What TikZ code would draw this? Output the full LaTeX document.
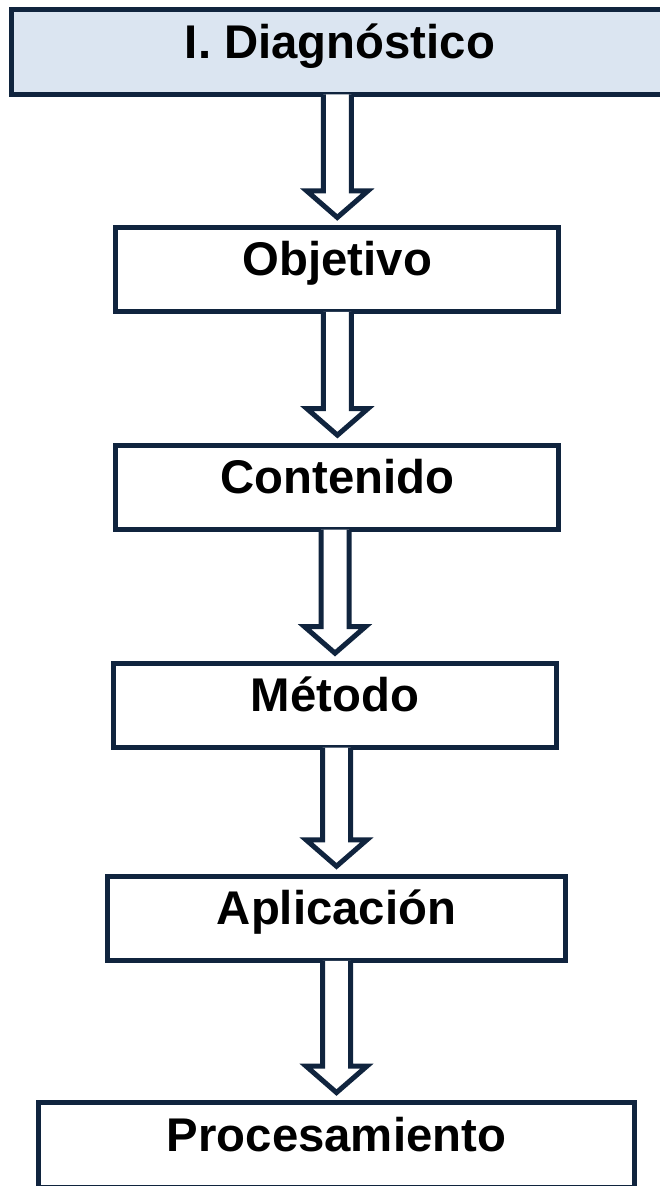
\documentclass[tikz,border=0pt]{standalone}
\usepackage{fontspec}
\setmainfont{Liberation Sans}
\usepackage{tikz}
\usetikzlibrary{calc,positioning}

\definecolor{boxline}{HTML}{10243E}
\definecolor{headfill}{HTML}{DBE5F1}

% hollow block arrow from one stage down to the next
\newcommand{\blockdown}[2]{%
  \draw[blockarrow] ($(#1.south -| #2.north)+(-14,0)$) -- ($(#2.north)+(-14,-36.5)$)
    -- ($(#2.north)+(-30.5,-36.5)$) -- ($(#2.north)+(0,-10)$)
    -- ($(#2.north)+(30.5,-36.5)$) -- ($(#2.north)+(14,-36.5)$)
    -- ($(#1.south -| #2.north)+(14,0)$);}

\begin{document}
\begin{tikzpicture}[x=1pt, y=-1pt,
      stage/.style={draw=boxline, line width=5pt, fill=white, inner sep=0pt, outer sep=0pt,
        text height=48.5pt, text depth=36pt, font=\bfseries\fontsize{47.3}{56}\selectfont},
      blockarrow/.style={draw=boxline, line width=5pt, fill=white, line join=miter}]
    \useasboundingbox (0,0) rectangle (660,1186);
    \clip (0,0) rectangle (660,1186);

    \node[stage, fill=headfill, minimum width=657.6pt] (diag) at (340,52.2) {I. Diagnóstico};
    \node[stage, minimum width=443pt] (obj) at (337.3,269.7) {Objetivo};
    \node[stage, minimum width=443pt] (cont) at (337.4,487.4) {Contenido};
    \node[stage, minimum width=443.6pt] (met) at (335,705.4) {Método};
    \node[stage, minimum width=458pt] (apl) at (336.5,918.5) {Aplicación};
    \node[stage, minimum width=596pt] (proc) at (336.5,1144.8) {Procesamiento};

    \blockdown{diag}{obj}
    \blockdown{obj}{cont}
    \blockdown{cont}{met}
    \blockdown{met}{apl}
    \blockdown{apl}{proc}
\end{tikzpicture}
\end{document}
